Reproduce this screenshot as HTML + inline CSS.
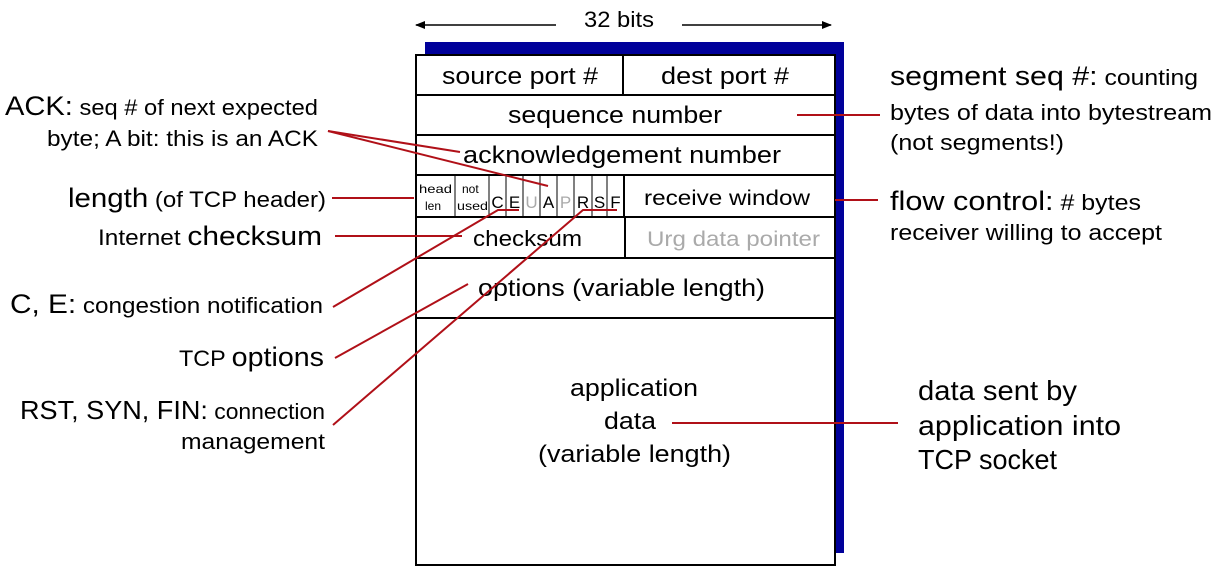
<!DOCTYPE html>
<html><head><meta charset="utf-8"><style>
html,body{margin:0;padding:0;background:#fff;}
svg{display:block;font-family:"Liberation Sans",sans-serif;}
.c{font-family:"Liberation Sans",sans-serif;}
</style></head><body>
<svg width="1224" height="575" viewBox="0 0 1224 575" xmlns="http://www.w3.org/2000/svg">
<defs>
<marker id="ah" markerWidth="10" markerHeight="8" refX="9" refY="4" orient="auto" markerUnits="userSpaceOnUse">
<path d="M0,0 L10,4 L0,8 z" fill="#000"/></marker>
</defs>
<!-- 32 bits -->
<line x1="556" y1="25" x2="416" y2="25" stroke="#000" stroke-width="1.5" marker-end="url(#ah)"/>
<line x1="682" y1="25" x2="831" y2="25" stroke="#000" stroke-width="1.5" marker-end="url(#ah)"/>
<text x="584" y="27" font-size="22" textLength="70" lengthAdjust="spacingAndGlyphs">32 bits</text>
<!-- shadow -->
<rect x="425" y="42" width="419" height="511" fill="#00009a"/>
<rect x="416" y="55" width="419" height="510" fill="#fff" stroke="#000" stroke-width="2"/>
<g stroke="#000" stroke-width="2">
<line x1="416" y1="95" x2="835" y2="95"/>
<line x1="416" y1="135" x2="835" y2="135"/>
<line x1="416" y1="175" x2="835" y2="175"/>
<line x1="416" y1="217" x2="835" y2="217"/>
<line x1="416" y1="258" x2="835" y2="258"/>
<line x1="416" y1="318" x2="835" y2="318"/>
<line x1="623" y1="55" x2="623" y2="95"/>
<line x1="624" y1="175" x2="624" y2="217"/>
<line x1="625" y1="217" x2="625" y2="258"/>
</g>
<g stroke="#000" stroke-width="1">
<line x1="455" y1="175" x2="455" y2="217"/>
<line x1="489" y1="175" x2="489" y2="217"/>
<line x1="506" y1="175" x2="506" y2="217"/>
<line x1="523" y1="175" x2="523" y2="217"/>
<line x1="540" y1="175" x2="540" y2="217"/>
<line x1="557" y1="175" x2="557" y2="217"/>
<line x1="574" y1="175" x2="574" y2="217"/>
<line x1="592" y1="175" x2="592" y2="217"/>
<line x1="607" y1="175" x2="607" y2="217"/>
</g>
<text x="442" y="84" font-size="24" textLength="156" lengthAdjust="spacingAndGlyphs">source port #</text>
<text x="661" y="84" font-size="24" textLength="128" lengthAdjust="spacingAndGlyphs">dest port #</text>
<text x="508" y="123" font-size="24" textLength="214" lengthAdjust="spacingAndGlyphs">sequence number</text>
<text x="463" y="163" font-size="24" textLength="318" lengthAdjust="spacingAndGlyphs">acknowledgement number</text>
<text x="419" y="193" font-size="12" textLength="33" lengthAdjust="spacingAndGlyphs">head</text>
<text x="425" y="210" font-size="12">len</text>
<text x="462" y="193" font-size="12">not</text>
<text x="457" y="210" font-size="12" textLength="31" lengthAdjust="spacingAndGlyphs">used</text>
<g font-size="17" text-anchor="middle">
<text x="497.5" y="208">C</text>
<text x="514.5" y="208">E</text>
<text x="531.5" y="208" fill="#aaa">U</text>
<text x="548.5" y="208">A</text>
<text x="565.5" y="208" fill="#aaa">P</text>
<text x="583" y="208">R</text>
<text x="599.5" y="208">S</text>
<text x="615.5" y="208">F</text>
</g>
<text x="644" y="205" font-size="21" textLength="166" lengthAdjust="spacingAndGlyphs">receive window</text>
<text x="473" y="246" font-size="22" textLength="109" lengthAdjust="spacingAndGlyphs">checksum</text>
<text x="647" y="246" font-size="21" fill="#aaa" textLength="173" lengthAdjust="spacingAndGlyphs">Urg data pointer</text>
<text x="478" y="296" font-size="24" textLength="287" lengthAdjust="spacingAndGlyphs">options (variable length)</text>
<text x="570" y="396" font-size="24" textLength="128" lengthAdjust="spacingAndGlyphs">application</text>
<text x="604" y="429" font-size="24" textLength="52" lengthAdjust="spacingAndGlyphs">data</text>
<text x="538" y="462" font-size="24" textLength="193" lengthAdjust="spacingAndGlyphs">(variable length)</text>
<!-- left labels -->
<text x="5" y="115" font-size="22" textLength="313" lengthAdjust="spacingAndGlyphs"><tspan font-size="27">ACK:</tspan> seq # of next expected</text>
<text x="47" y="146" font-size="22" textLength="271" lengthAdjust="spacingAndGlyphs">byte; A bit: this is an ACK</text>
<text x="68" y="207" font-size="22" textLength="258" lengthAdjust="spacingAndGlyphs"><tspan font-size="27">length</tspan> (of TCP header)</text>
<text x="98" y="245" font-size="22" textLength="224" lengthAdjust="spacingAndGlyphs">Internet <tspan font-size="27">checksum</tspan></text>
<text x="10" y="313" font-size="22" textLength="313" lengthAdjust="spacingAndGlyphs"><tspan font-size="27">C, E:</tspan> congestion notification</text>
<text x="179" y="366" font-size="22" textLength="145" lengthAdjust="spacingAndGlyphs">TCP <tspan font-size="27">options</tspan></text>
<text x="20" y="419" font-size="22" textLength="305" lengthAdjust="spacingAndGlyphs"><tspan font-size="26">RST, SYN, FIN:</tspan> connection</text>
<text x="181" y="449" font-size="22" textLength="144" lengthAdjust="spacingAndGlyphs">management</text>
<!-- right labels -->
<text x="890" y="85" font-size="22" textLength="308" lengthAdjust="spacingAndGlyphs"><tspan font-size="27">segment seq  #:</tspan> counting</text>
<text x="890" y="120" font-size="22" textLength="322" lengthAdjust="spacingAndGlyphs">bytes of data into bytestream</text>
<text x="890" y="150" font-size="22" textLength="174" lengthAdjust="spacingAndGlyphs">(not segments!)</text>
<text x="890" y="210" font-size="22" textLength="251" lengthAdjust="spacingAndGlyphs"><tspan font-size="27">flow control:</tspan> # bytes</text>
<text x="890" y="240" font-size="22" textLength="272" lengthAdjust="spacingAndGlyphs">receiver willing to accept</text>
<text x="918" y="400" font-size="28" textLength="159" lengthAdjust="spacingAndGlyphs">data sent by</text>
<text x="918" y="435" font-size="28" textLength="203" lengthAdjust="spacingAndGlyphs">application into</text>
<text x="918" y="469" font-size="28" textLength="139" lengthAdjust="spacingAndGlyphs">TCP socket</text>
<!-- red connectors -->
<g stroke="#b01018" stroke-width="2" fill="none">
<line x1="328" y1="131" x2="460" y2="152"/>
<line x1="328" y1="131" x2="548" y2="186"/>
<line x1="332" y1="198" x2="414" y2="198"/>
<line x1="335" y1="236" x2="462" y2="236"/>
<polyline points="333,307 498,210 519,210"/>
<line x1="335" y1="358" x2="468" y2="284"/>
<polyline points="333,425 583,210 617,210"/>
<line x1="797" y1="115" x2="880" y2="115"/>
<line x1="835" y1="200" x2="878" y2="200"/>
<line x1="672" y1="423" x2="898" y2="423"/>
</g>
</svg>
</body></html>
